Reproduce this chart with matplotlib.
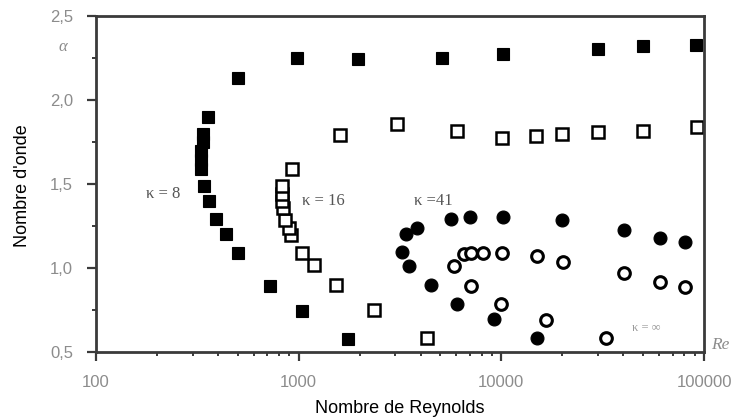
import matplotlib
matplotlib.use("Agg")
import matplotlib.pyplot as plt
from matplotlib.ticker import FixedLocator, NullFormatter, LogLocator

# ---- data ----
k8_re = [1750, 1040, 720, 500, 440, 392, 362, 342, 329, 329, 329, 339, 339, 359,
         503, 985, 1970, 5080, 10200, 30000, 50000, 91400]
k8_alpha = [0.58, 0.745, 0.895, 1.09, 1.20, 1.29, 1.40, 1.49, 1.591, 1.644, 1.698, 1.751, 1.799, 1.90,
            2.13, 2.25, 2.245, 2.25, 2.275, 2.305, 2.32, 2.33]

k16_re = [4280, 2350, 1535, 1186, 1040, 920, 893, 860, 836, 828, 828, 828, 927,
          1608, 3040, 6070, 10100, 14900, 19900, 30100, 50200, 92500]
k16_alpha = [0.585, 0.75, 0.90, 1.015, 1.088, 1.197, 1.239, 1.287, 1.358, 1.40, 1.442, 1.489, 1.591,
             1.793, 1.857, 1.817, 1.774, 1.783, 1.797, 1.807, 1.817, 1.837]

k41_re = [14960, 9160, 6070, 4480, 3500, 3220, 3370, 3850, 5620, 7020, 10240, 19900, 40200, 60500, 80900]
k41_alpha = [0.583, 0.694, 0.786, 0.896, 1.013, 1.093, 1.203, 1.237, 1.291, 1.305, 1.303, 1.283,
             1.227, 1.176, 1.154]

kinf_re = [32960, 16670, 9980, 7060, 5840, 6550, 7060, 8150, 10070, 14960, 20050, 40400, 60700, 81000]
kinf_alpha = [0.583, 0.691, 0.786, 0.893, 1.013, 1.083, 1.092, 1.092, 1.092, 1.069, 1.038, 0.973,
              0.919, 0.884]

y_ticks = [0.5, 1.0, 1.5, 2.0, 2.5]
y_ticklabels = ["0,5", "1,0", "1,5", "2,0", "2,5"]
y_minor = [0.75, 1.25, 1.75, 2.25]
x_ticks = [100, 1000, 10000, 100000]
x_ticklabels = ["100", "1000", "10000", "100000"]

# ---- figure ----
W, H, DPI = 732, 419, 100
fig = plt.figure(figsize=(W / DPI, H / DPI), dpi=DPI)
L, R, T, B = 96, 704, 16, 352
ax = fig.add_axes([L / W, 1 - B / H, (R - L) / W, (B - T) / H])

frame_col = "#3a3a3a"
ms = 9.0
ax.plot(k8_re, k8_alpha, ls="none", marker="s", ms=ms, mfc="black", mec="black", mew=0.8)
ax.plot(k16_re, k16_alpha, ls="none", marker="s", ms=ms - 0.8, mfc="white", mec="black", mew=1.8)
ax.plot(k41_re, k41_alpha, ls="none", marker="o", ms=ms + 0.3, mfc="black", mec="black", mew=0.8)
ax.plot(kinf_re, kinf_alpha, ls="none", marker="o", ms=ms - 0.6, mfc="white", mec="black", mew=2.2)

ax.set_xscale("log")
ax.set_xlim(100, 100000)
ax.set_ylim(0.5, 2.5)

ax.set_xticks(x_ticks)
ax.set_xticklabels(x_ticklabels)
ax.xaxis.set_minor_locator(LogLocator(base=10, subs=range(2, 10)))
ax.xaxis.set_minor_formatter(NullFormatter())
ax.set_yticks(y_ticks)
ax.set_yticklabels(y_ticklabels)
ax.yaxis.set_minor_locator(FixedLocator(y_minor))

sans = ["Liberation Sans", "DejaVu Sans"]
for lab in ax.get_xticklabels() + ax.get_yticklabels():
    lab.set_fontfamily(sans)
    lab.set_fontsize(12)
    lab.set_color("#8c8c8c")

ax.tick_params(axis="both", which="major", direction="out", length=6.5, width=1.6,
               color=frame_col)
ax.tick_params(axis="both", which="minor", direction="out", length=3.0, width=1.4,
               color=frame_col)
ax.tick_params(axis="x", which="major", pad=10)
ax.tick_params(axis="y", which="major", pad=10)

for sp in ax.spines.values():
    sp.set_linewidth(2.0)
    sp.set_color(frame_col)

ax.set_xlabel("Nombre de Reynolds", fontsize=13, family=sans, color="black", labelpad=7)
fig.text(23 / W, 1 - 186 / H, "Nombre d'onde", rotation=90, ha="center", va="center",
         fontsize=13, family=sans, color="black")

serif = ["Liberation Serif", "DejaVu Serif"]
ax.text(214, 1.442, "κ = 8", ha="center", va="center", fontsize=12, family=serif, color="#555555")
ax.text(1325, 1.40, "κ = 16", ha="center", va="center", fontsize=12, family=serif, color="#555555")
ax.text(4634, 1.40, "κ =41", ha="center", va="center", fontsize=12, family=serif, color="#555555")
ax.text(51760, 0.643, "κ = ∞", ha="center", va="center", fontsize=9, family=serif, color="#9a9a9a")

fig.text(63 / W, 1 - 47 / H, "α", ha="center", va="center", fontsize=12, family=serif,
         style="italic", color="#8c8c8c")
fig.text(711 / W, 1 - 345 / H, "Re", ha="left", va="center", fontsize=12.5, family=serif,
         style="italic", color="#8c8c8c")

fig.savefig("out.png", dpi=DPI)
